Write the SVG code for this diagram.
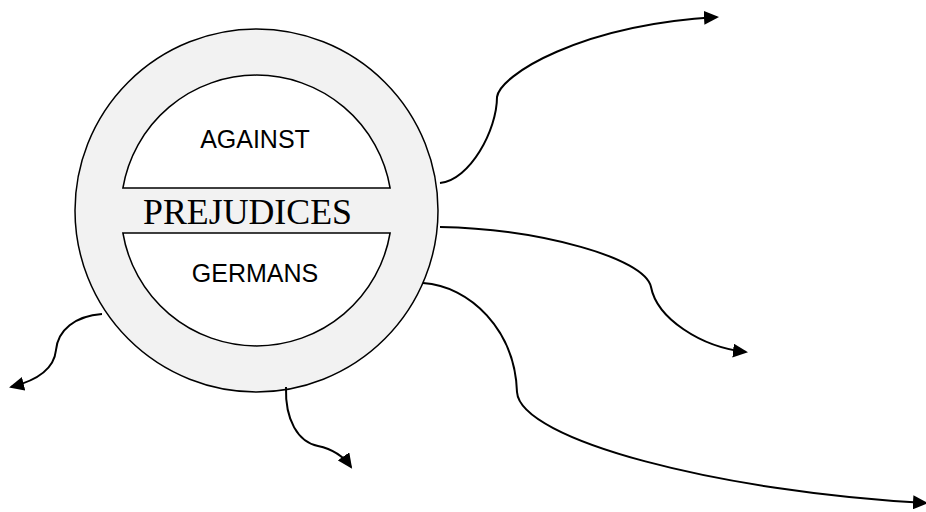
<svg xmlns="http://www.w3.org/2000/svg" width="926" height="512" viewBox="0 0 926 512">
  <defs>
    <style>
      .ring { fill: #f2f2f2; stroke: #000; stroke-width: 1.5; }
      .half { fill: #fff; stroke: #000; stroke-width: 1.5; }
      .lbl { font-family: "Liberation Sans", Arial, sans-serif; font-size: 25px; fill: #000; text-anchor: middle; }
      .title { font-family: "Liberation Serif", "Times New Roman", serif; font-size: 36px; fill: #000; text-anchor: middle; }
      .conn { fill: none; stroke: #000; stroke-width: 2; marker-end: url(#arrow); }
    </style>
    <marker id="arrow" markerUnits="userSpaceOnUse" markerWidth="16" markerHeight="14" refX="13" refY="7" orient="auto">
      <path d="M0,0 L15,7 L0,14 z" fill="#000"/>
    </marker>
  </defs>
  <rect width="926" height="512" fill="#fff"/>
  <g id="prejudices">
    <circle class="ring" cx="256.5" cy="210.5" r="181.5"/>
    <path class="half" d="M122.9,188 A135.5,135.5 0 0 1 390.1,188 Z"/>
    <path class="half" d="M122.9,233 A135.5,135.5 0 0 0 390.1,233 Z"/>
    <text class="lbl" x="255" y="148">AGAINST</text>
    <text class="title" x="247.5" y="224" textLength="209" lengthAdjust="spacingAndGlyphs">PREJUDICES</text>
    <text class="lbl" x="255" y="282">GERMANS</text>
  </g>
  <g id="connectors">
    <path class="conn" d="M440,183 C470,180 497,130 497,97 C500,75 580,25 717,17"/>
    <path class="conn" d="M440,227 C540,229 645,258 651,287 C657,318 700,347 746,352"/>
    <path class="conn" d="M423,283 C470,286 515,330 517,392 C520,440 720,492 926,503"/>
    <path class="conn" d="M102,314 C75,316 58,330 56,350 C54,370 35,381 11,387"/>
    <path class="conn" d="M286,387 C285,420 298,442 318,446 C332,449 344,457 351,467"/>
  </g>
</svg>
